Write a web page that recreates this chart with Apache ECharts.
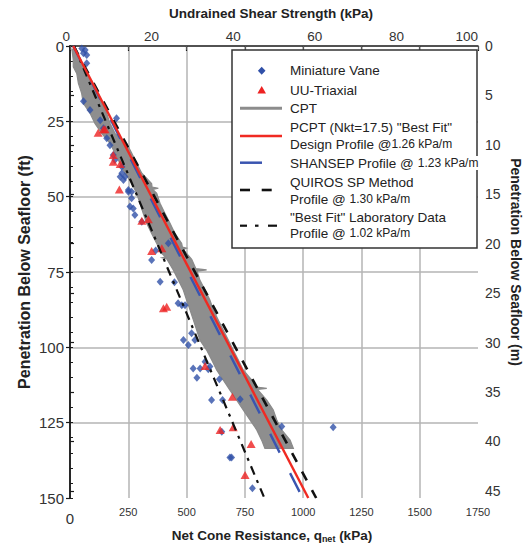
<!DOCTYPE html>
<html>
<head>
<meta charset="utf-8">
<script src="https://cdn.jsdelivr.net/npm/echarts@6/dist/echarts.min.js"></script>
<style>
  html, body { margin: 0; padding: 0; background: #fff; }
  #chart { width: 531px; height: 548px; }
</style>
</head>
<body>
<div id="chart"></div>
<script>
// CPT net cone resistance envelope (kPa): lower edge versus penetration (ft)
const cptLowDepthFt = [1.0, 4.6, 6.9, 9.1, 12.4, 15.7, 19.0, 22.3, 25.7, 29.0, 32.3, 35.6, 38.9, 42.2, 45.6, 48.9, 52.2, 55.5, 58.8, 62.2, 65.5, 68.8, 70.0, 70.3, 70.7, 74.3, 77.7, 81.0, 84.3, 87.6, 90.9, 94.2, 97.6, 100.9, 104.2, 107.5, 110.8, 114.2, 117.5, 120.8, 124.1, 127.4, 130.8, 133.5];
const cptLowQnet    = [8, 14, 14, 29, 36, 50, 57, 86, 107, 136, 172, 193, 214, 236, 265, 286, 300, 314, 329, 350, 372, 393, 410, 395, 415, 443, 465, 486, 500, 515, 529, 543, 557, 586, 608, 629, 657, 686, 715, 743, 772, 801, 822, 836];
// CPT upper edge, including the narrow high-resistance streaks
const cptHighDepthFt = [1.0, 4.6, 6.9, 9.1, 12.4, 15.7, 19.0, 22.3, 25.7, 29.0, 32.3, 35.6, 38.9, 42.2, 45.6, 46.8, 47.2, 47.6, 48.9, 52.2, 55.5, 58.8, 62.2, 65.5, 66.7, 67.1, 67.5, 68.8, 70.8, 73.9, 74.3, 74.7, 77.7, 81.0, 84.3, 87.6, 90.9, 94.2, 97.6, 100.9, 104.2, 107.5, 110.8, 113.2, 113.6, 114.0, 117.5, 120.8, 124.1, 127.4, 130.8, 133.5];
const cptHighQnet    = [20, 43, 64, 72, 93, 114, 136, 157, 172, 193, 243, 265, 286, 308, 350, 352, 379, 355, 372, 386, 407, 429, 450, 479, 482, 500, 486, 500, 522, 540, 586, 545, 557, 579, 600, 615, 636, 657, 679, 700, 722, 743, 779, 800, 844, 805, 844, 872, 887, 908, 944, 958];

// Miniature vane undrained shear strength (kPa) and sample depth (ft)
const vaneSu      = [2.9, 3.7, 4.1, 3.3, 4.1, 3.3, 4.9, 11.4, 7.4, 8.2, 9.0, 9.8, 10.6, 11.0, 12.7, 12.7, 12.3, 13.5, 13.1, 14.3, 15.1, 14.3, 15.1, 14.7, 15.5, 15.9, 17.6, 20.0, 21.0, 22.1, 24.1, 25.6, 26.5, 27.4, 28.2, 29.8, 27.8, 29.0, 30.6, 30.2, 31.9, 33.1, 34.3, 33.9, 31.1, 36.6, 34.7, 37.4, 41.7, 37.2, 39.2, 39.6, 44.7, 51.9, 64.5];
const vaneDepthFt = [0.8, 1.3, 3.0, 2.4, 5.7, 18.3, 21.2, 24.0, 24.6, 27.3, 30.6, 32.9, 36.2, 37.8, 40.1, 42.2, 43.4, 43.4, 44.5, 47.8, 50.5, 48.4, 48.4, 53.3, 53.9, 56.1, 58.3, 71.0, 67.9, 78.2, 65.5, 78.4, 85.4, 86.0, 86.0, 95.3, 97.6, 99.2, 97.6, 107.0, 107.0, 104.8, 106.4, 107.3, 110.1, 110.6, 117.5, 117.5, 117.2, 128.0, 136.6, 136.6, 146.8, 126.3, 126.5];

// UU-triaxial undrained shear strength (kPa) and sample depth (ft)
const uuSu      = [6.9, 8.2, 8.6, 10.6, 10.6, 12.3, 12.1, 17.6, 19.2, 20.0, 22.5, 22.9, 23.7, 33.1, 39.8, 36.8, 40.0, 44.4, 42.9];
const uuDepthFt = [28.8, 27.6, 27.6, 36.2, 38.4, 39.2, 47.6, 58.0, 57.5, 68.0, 67.1, 87.0, 86.5, 106.2, 116.4, 127.4, 126.5, 132.1, 142.4];

// Linear strength profiles: su at mudline (kPa) and gradient (kPa/m)
const profileNames     = ['PCPT', 'SHANSEP', 'QUIROS', 'LabFit'];
const profileMudlineSu = [0.8, 0.8, 0.9, 1.0];
const profileGradient  = [1.26, 1.23, 1.30, 1.02];
const maxDepthM = 45.72;

// Axis ticks
const depthMTicks = [0, 5, 10, 15, 20, 25, 30, 35, 40, 45];

const FONT = "'Liberation Sans', Arial, sans-serif";
const GRID = { left: 70, right: 53, top: 46, bottom: 50 };

function profileLine(i) {
  const a = profileMudlineSu[i], g = profileGradient[i];
  return [[a, 0], [a + g * maxDepthM, maxDepthM]];
}

const chart = echarts.init(document.getElementById('chart'), null, { renderer: 'svg' });

const gridColor = '#b4b4b4';
const axisBlack = { show: true, lineStyle: { color: '#1a1a1a', width: 1.5 } };

const option = {
  animation: false,
  backgroundColor: '#fff',
  grid: GRID,
  xAxis: [
    {
      type: 'value', position: 'bottom', min: 0, max: 1750, interval: 250,
      axisLine: axisBlack,
      axisTick: { show: true, length: 5, lineStyle: { color: '#1a1a1a', width: 1.2 } },
      axisLabel: {
        color: '#333', fontFamily: FONT, fontSize: 11, margin: 8,
        formatter: v => v === 0 ? '{big|0}' : String(v),
        rich: { big: { fontSize: 15, fontFamily: FONT, color: '#333', padding: [5, 0, 0, 0] } }
      },
      splitLine: { show: true, showMinLine: false, showMaxLine: false, lineStyle: { color: gridColor, width: 1.5 } }
    },
    {
      type: 'value', position: 'top', min: 0, max: 100, interval: 20,
      axisLine: { show: false }, axisTick: { show: false },
      axisLabel: { color: '#333', fontFamily: FONT, fontSize: 13.5, margin: 3, alignMinLabel: 'right', alignMaxLabel: 'right' },
      splitLine: { show: false }
    },
    {
      type: 'value', position: 'top', min: 0, max: 1750, interval: 250,
      axisLine: { show: false },
      axisTick: { show: true, inside: true, length: 4, lineStyle: { color: '#555', width: 1 } },
      axisLabel: { show: false }, splitLine: { show: false }
    }
  ],
  yAxis: [
    {
      type: 'value', position: 'left', inverse: true, min: 0, max: 150, interval: 25,
      axisLine: axisBlack,
      axisTick: { show: true, length: 4, lineStyle: { color: '#1a1a1a', width: 1.2 } },
      axisLabel: { color: '#333', fontFamily: FONT, fontSize: 15, margin: 6 },
      splitLine: { show: true, showMinLine: false, showMaxLine: false, lineStyle: { color: gridColor, width: 1.5 } }
    },
    {
      type: 'value', position: 'right', inverse: true, min: 0, max: maxDepthM,
      axisLine: axisBlack,
      axisTick: { show: true, length: 4, customValues: depthMTicks, lineStyle: { color: '#1a1a1a', width: 1.2 } },
      axisLabel: { color: '#333', fontFamily: FONT, fontSize: 14, margin: 7, customValues: depthMTicks },
      splitLine: { show: false }
    },
    {
      type: 'value', position: 'left', inverse: true, min: 0, max: 150, interval: 5,
      axisLine: { show: false },
      axisTick: { show: true, inside: true, length: 3, lineStyle: { color: '#1a1a1a', width: 1 } },
      axisLabel: { show: false }, splitLine: { show: false }
    }
  ],
  series: [
    {
      name: 'CPT', type: 'custom', xAxisIndex: 0, yAxisIndex: 0, z: 2,
      data: [[0, 0]],
      renderItem: function (params, api) {
        const pts = [];
        for (let i = 0; i < cptLowDepthFt.length; i++) pts.push(api.coord([cptLowQnet[i], cptLowDepthFt[i]]));
        for (let i = cptHighDepthFt.length - 1; i >= 0; i--) pts.push(api.coord([cptHighQnet[i], cptHighDepthFt[i]]));
        return {
          type: 'polygon', shape: { points: pts },
          style: { fill: '#8e8e8e', stroke: '#8a8a8a', lineWidth: 1.2, lineJoin: 'miter' }
        };
      }
    },
    {
      name: 'Miniature Vane', type: 'scatter', xAxisIndex: 1, yAxisIndex: 0, z: 3,
      symbol: 'diamond', symbolSize: [7, 8],
      itemStyle: { color: '#3050a8' },
      data: vaneSu.map((s, i) => [s, vaneDepthFt[i]])
    },
    {
      name: 'UU-Triaxial', type: 'scatter', xAxisIndex: 1, yAxisIndex: 0, z: 3,
      symbol: 'triangle', symbolSize: [9, 8],
      itemStyle: { color: '#ee2222' },
      data: uuSu.map((s, i) => [s, uuDepthFt[i]])
    },
    {
      name: 'Best Fit Laboratory', type: 'line', xAxisIndex: 1, yAxisIndex: 1, z: 4,
      symbol: 'none', data: profileLine(3),
      lineStyle: { color: '#111', width: 2.2, type: [9, 6, 3, 6] }
    },
    {
      name: 'QUIROS SP', type: 'line', xAxisIndex: 1, yAxisIndex: 1, z: 4,
      symbol: 'none', data: profileLine(2),
      lineStyle: { color: '#111', width: 2.6, type: [10, 11] }
    },
    {
      name: 'SHANSEP', type: 'line', xAxisIndex: 1, yAxisIndex: 1, z: 5,
      symbol: 'none', data: profileLine(1),
      lineStyle: { color: '#3a55b0', width: 2.4, type: [21, 23], dashOffset: 5 }
    },
    {
      name: 'PCPT', type: 'line', xAxisIndex: 1, yAxisIndex: 1, z: 6,
      symbol: 'none', data: profileLine(0),
      lineStyle: { color: '#f02a22', width: 2.4 }
    }
  ],
  graphic: []
};

// Legend panel
const LX = 232, LY = 50, LW = 245, LH = 198, TX = 290;
const txt = (text, y) => ({
  type: 'text', z: 102,
  style: {
    text: text, x: TX, y: y, fill: '#222', fontFamily: FONT, fontSize: 13.5,
    verticalAlign: 'middle', align: 'left',
    rich: { s: { fontFamily: FONT, fontSize: 12, fill: '#222' } }
  }
});
const seg = (x1, x2, y, color, w) => ({
  type: 'line', z: 102,
  shape: { x1: x1, y1: y, x2: x2, y2: y },
  style: { stroke: color, lineWidth: w }
});

option.graphic = [
  { type: 'rect', z: 100, shape: { x: LX, y: LY, width: LW, height: LH },
    style: { fill: '#fff', stroke: '#333', lineWidth: 1.5 } },
  { type: 'rect', z: 101, shape: { x: 440, y: 156, width: 40, height: 14 }, style: { fill: '#fff' } },
  { type: 'polygon', z: 102, shape: { points: [[261.7, 66.7], [265.5, 70.7], [261.7, 74.7], [257.9, 70.7]] }, style: { fill: '#3050a8' } },
  txt('Miniature Vane', 70.7),
  { type: 'polygon', z: 102, shape: { points: [[261.7, 86], [266, 93.5], [257.4, 93.5]] }, style: { fill: '#ee2222' } },
  txt('UU-Triaxial', 90),
  seg(240, 282, 108.3, '#8c8c8c', 3),
  txt('CPT', 108.3),
  seg(240, 282, 136, '#f02a22', 2.5),
  txt('PCPT (Nkt=17.5) "Best Fit"', 127.7),
  txt('Design Profile @{s|1.26 kPa/m}', 144.3),
  seg(240, 262, 162.7, '#3a55b0', 2.5),
  txt('SHANSEP Profile @ {s|1.23 kPa/m}', 163),
  seg(240, 250, 190, '#111', 2.6),
  seg(261.7, 271.7, 190, '#111', 2.6),
  txt('QUIROS SP Method', 182.7),
  txt('Profile @ {s|1.30 kPa/m}', 199),
  seg(240, 247, 225.7, '#111', 2.2),
  seg(255, 258.5, 225.7, '#111', 2.2),
  seg(268, 277, 225.7, '#111', 2.2),
  txt('"Best Fit" Laboratory Data', 217.7),
  txt('Profile @ {s|1.02 kPa/m}', 233.3),

  // Axis titles
  { type: 'text', z: 102, style: { text: 'Undrained Shear Strength (kPa)', x: 271, y: 13, align: 'center', verticalAlign: 'middle',
      fontFamily: FONT, fontSize: 13.5, fontWeight: 'bold', fill: '#222' } },
  { type: 'text', z: 102, style: { text: 'Net Cone Resistance, q{sub|net} (kPa)', x: 272, y: 535, align: 'center', verticalAlign: 'middle',
      fontFamily: FONT, fontSize: 13.5, fontWeight: 'bold', fill: '#222',
      rich: { sub: { fontFamily: FONT, fontSize: 9, fontWeight: 'bold', fill: '#222', padding: [7, 0, 0, 0] } } } },
  { type: 'text', z: 102, x: 24, y: 272, rotation: Math.PI / 2,
    style: { text: 'Penetration Below Seafloor (ft)', x: 0, y: 0, align: 'center', verticalAlign: 'middle',
      fontFamily: FONT, fontSize: 16, fontWeight: 'bold', fill: '#222' } },
  { type: 'text', z: 102, x: 516, y: 262, rotation: -Math.PI / 2,
    style: { text: 'Penetration Below Seafloor (m)', x: 0, y: 0, align: 'center', verticalAlign: 'middle',
      fontFamily: FONT, fontSize: 14, fontWeight: 'bold', fill: '#222' } }
];

chart.setOption(option);
</script>
</body>
</html>
